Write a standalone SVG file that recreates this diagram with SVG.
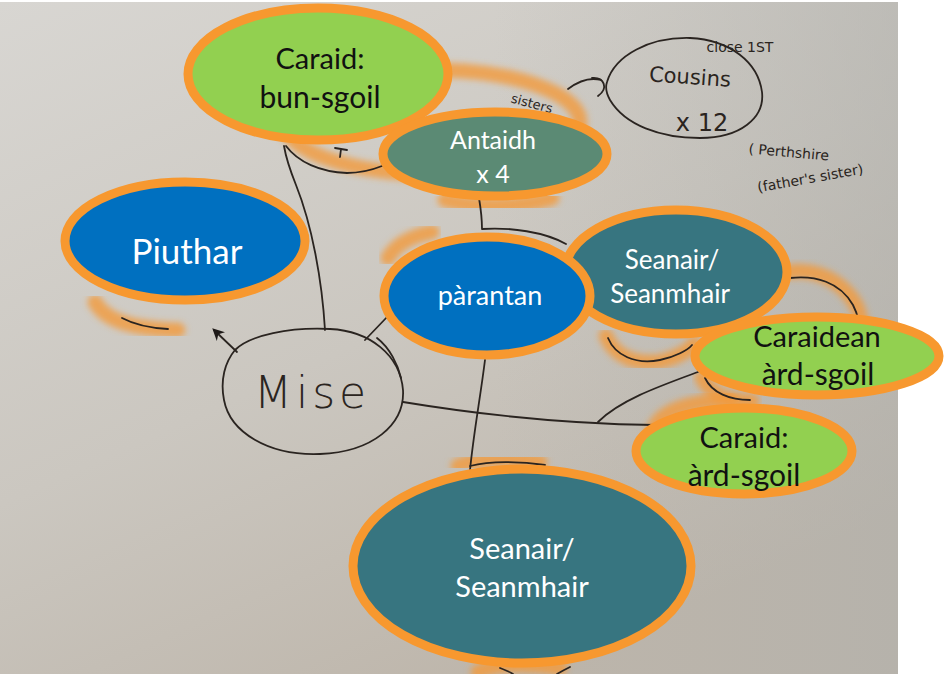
<svg xmlns="http://www.w3.org/2000/svg" width="945" height="674" viewBox="0 0 945 674">
<defs>
<linearGradient id="paper" x1="0" y1="0" x2="0.6" y2="1">
<stop offset="0" stop-color="#d8d6d2"/>
<stop offset="0.55" stop-color="#cbc7c0"/>
<stop offset="1" stop-color="#bdb5aa"/>
</linearGradient>
<linearGradient id="paperR" x1="0" y1="0" x2="1" y2="0">
<stop offset="0.55" stop-color="#b4b4b0" stop-opacity="0"/>
<stop offset="1" stop-color="#b0b0ac" stop-opacity="0.55"/>
</linearGradient>
<filter id="crayon" x="-20%" y="-20%" width="140%" height="140%">
<feGaussianBlur stdDeviation="3"/>
</filter>
<marker id="arrow" viewBox="0 0 10 10" refX="8" refY="5" markerWidth="14" markerHeight="12" orient="auto" markerUnits="userSpaceOnUse">
<path d="M0,0 L10,5 L0,10 L3,5 Z" fill="#1e1a18"/>
</marker>
<style>
.node{stroke:#f7982f;stroke-width:9}
.green{fill:#92d050}
.blue{fill:#0070c0}
.teal{fill:#377580}
.sage{fill:#5b8a74}
.lbl{font-family:Lato,"Liberation Sans",sans-serif;text-anchor:middle}
.dark{fill:#111}
.light{fill:#ffffff}
.pen{fill:none;stroke:#2a2420;stroke-width:1.8;stroke-linecap:round;stroke-linejoin:round}
.cray{fill:none;stroke:#f39a3c;stroke-width:15;stroke-opacity:0.8;stroke-linecap:round;filter:url(#crayon)}
.hand{font-family:"DejaVu Sans",sans-serif;fill:#2a2420}
</style>
</defs>
<rect x="0" y="0" width="945" height="674" fill="#ffffff"/>
<rect x="0" y="2" width="898" height="672" fill="url(#paper)"/>
<rect x="0" y="2" width="898" height="672" fill="url(#paperR)"/>

<g id="crayon-marks">
<ellipse cx="432" cy="122" rx="148" ry="52" class="cray"/>
<path class="cray" d="M95,302 C105,320 130,329 178,330"/>
<path class="cray" d="M788,272 C815,268 842,280 856,305 C862,318 862,326 860,332"/>
<path class="cray" d="M606,336 C614,356 636,366 662,361 C678,357 690,350 694,344"/>
<path class="cray" d="M702,378 C710,394 730,402 752,401"/>
<path class="cray" d="M652,432 C660,410 690,401 730,400"/>
<path class="cray" d="M458,466 C480,458 510,457 540,462"/>
<path class="cray" d="M478,672 C495,664 520,662 560,668"/>
<path class="cray" d="M445,200 C475,208 520,208 552,198"/>
<path class="cray" d="M388,258 C396,244 412,236 432,232"/>
</g>

<g id="connectors">
<path class="pen" d="M325,330 C322,280 312,225 296,185 C290,170 286,158 284,146"/>
<path class="pen" d="M237,352 L214,330" marker-end="url(#arrow)"/>
<path class="pen" d="M365,340 L388,316"/>
<path class="pen" d="M403,402 C470,413 560,424 655,425"/>
<path class="pen" d="M598,422 C620,400 660,386 698,372"/>
<path class="pen" d="M485,360 C480,400 474,430 470,470"/>
<path class="pen" d="M479,198 C481,210 482,220 482,229 C510,227 545,232 566,244"/>
<path class="pen" d="M568,89 C580,80 590,77 601,80"/>
<path class="pen" d="M592,78 C604,77 609,88 598,96"/>
<path class="pen" d="M286,146 C298,162 320,172 347,173 C360,173 372,170 382,166"/>
<path class="pen" d="M122,318 C135,325 150,328 168,329"/>
<path class="pen" d="M790,278 C815,275 840,282 853,305 C858,315 860,323 858,330"/>
<path class="pen" d="M608,338 C615,355 635,365 660,360 C675,357 688,350 692,345"/>
<path class="pen" d="M705,378 C712,393 730,400 750,400"/>
<path class="pen" d="M470,466 C490,461 520,461 545,465"/>
<path class="pen" d="M500,668 C505,670 510,672 513,674"/>
<path class="pen" d="M557,674 C562,671 566,669 570,667"/>
<path class="pen" d="M335,148 L347,150 M341,149 L340,157"/>
</g>

<g id="node-cousins">
<path class="pen" d="M607,82 C615,55 650,37 690,38 C730,40 758,62 762,92 C765,118 740,138 700,138 C660,138 625,125 610,100 C606,93 605,88 607,82 Z"/>
<text class="hand" x="690" y="84" font-size="21" text-anchor="middle" transform="rotate(4 690 77)">Cousins</text>
<text class="hand" x="702" y="131" font-size="24" text-anchor="middle">x 12</text>
<text class="hand" x="740" y="52" font-size="14" text-anchor="middle">close 1ST</text>
<text class="hand" x="789" y="157" font-size="14" text-anchor="middle" transform="rotate(5 789 150)">( Perthshire</text>
<text class="hand" x="810" y="183" font-size="14" text-anchor="middle" transform="rotate(-10 810 177)">(father's sister)</text>
<text class="hand" x="532" y="108" font-size="13" text-anchor="middle" transform="rotate(15 532 103)">sisters</text>
</g>

<g id="node-mise">
<path class="pen" d="M235,350 C250,335 290,327 330,329 C370,331 400,355 403,390 C405,425 372,452 320,454 C268,456 230,432 224,400 C220,380 225,362 235,350 Z"/>
<path class="pen" d="M377,338 C390,348 398,365 401,378"/>
<text class="hand" x="254" y="408" font-size="44" font-weight="200" letter-spacing="4">Mise</text>
</g>

<g id="node-caraid-bun-sgoil">
<ellipse class="node green" cx="318" cy="74" rx="130" ry="66"/>
<text class="lbl dark" x="320" y="69" font-size="29">Caraid:</text>
<text class="lbl dark" x="320" y="108" font-size="30">bun-sgoil</text>
</g>

<g id="node-antaidh">
<ellipse class="node sage" cx="495" cy="154" rx="112" ry="42"/>
<text class="lbl light" x="493" y="149" font-size="25">Antaidh</text>
<text class="lbl light" x="493" y="183" font-size="25">x 4</text>
</g>

<g id="node-piuthar">
<ellipse class="node blue" cx="185" cy="241" rx="120" ry="59"/>
<text class="lbl light" x="187" y="264" font-size="35">Piuthar</text>
</g>

<g id="node-seanair-1">
<ellipse class="node teal" cx="676" cy="272" rx="111" ry="62"/>
<text class="lbl light" x="672" y="269" font-size="26">Seanair/</text>
<text class="lbl light" x="670" y="303" font-size="26">Seanmhair</text>
</g>

<g id="node-parantan">
<ellipse class="node blue" cx="487" cy="296" rx="103" ry="59"/>
<text class="lbl light" x="490" y="305" font-size="27">pàrantan</text>
</g>

<g id="node-caraidean-ard-sgoil">
<ellipse class="node green" cx="817" cy="356" rx="122" ry="39"/>
<text class="lbl dark" x="817" y="347" font-size="29">Caraidean</text>
<text class="lbl dark" x="818" y="385" font-size="30">àrd-sgoil</text>
</g>

<g id="node-caraid-ard-sgoil">
<ellipse class="node green" cx="744" cy="451" rx="108" ry="43"/>
<text class="lbl dark" x="744" y="448" font-size="29">Caraid:</text>
<text class="lbl dark" x="744" y="486" font-size="30">àrd-sgoil</text>
</g>

<g id="node-seanair-2">
<ellipse class="node teal" cx="522" cy="566" rx="169" ry="97"/>
<text class="lbl light" x="522" y="559" font-size="29">Seanair/</text>
<text class="lbl light" x="522" y="597" font-size="29">Seanmhair</text>
</g>
</svg>
